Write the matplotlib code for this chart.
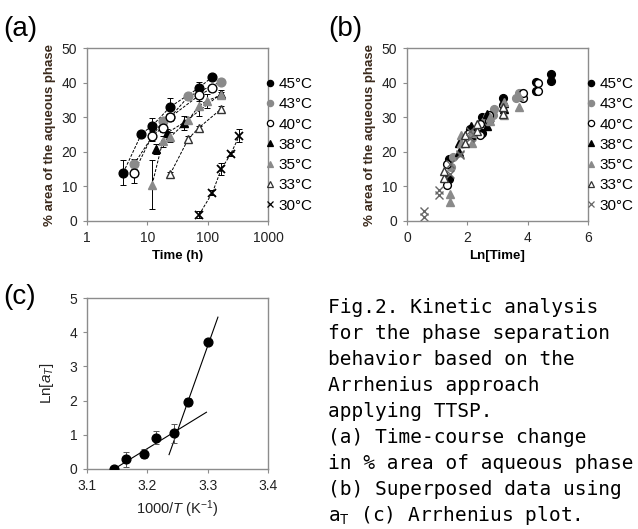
import matplotlib
matplotlib.use('Agg')
import matplotlib.pyplot as plt
from matplotlib.lines import Line2D
import numpy as np

plt.rcParams['font.family'] = ['Liberation Sans', 'DejaVu Sans']
plt.rcParams['mathtext.fontset'] = 'custom'
plt.rcParams['mathtext.rm'] = 'Liberation Sans'
plt.rcParams['mathtext.it'] = 'Liberation Sans:italic'

# ---- panel (a): time course, mean +- sd ----
temps = ['45°C', '43°C', '40°C', '38°C', '35°C', '33°C', '30°C']

t45 = [4, 8, 12, 24, 72, 120]
y45 = [14.0, 25.2, 27.5, 33.0, 38.5, 41.7]
e45 = [3.5, 0.8, 2.3, 2.5, 1.8, 0.6]

t43 = [6, 18, 24, 48, 168]
y43 = [16.4, 29.0, 30.0, 36.0, 40.3]
e43 = [1.5, 1.0, 1.0, 0.8, 0.8]

t40 = [6, 12, 18, 24, 72, 120]
y40 = [14.0, 24.6, 27.0, 30.0, 36.3, 38.5]
e40 = [3.0, 1.5, 1.2, 1.0, 1.5, 0.8]

t38 = [14, 21, 40, 168]
y38 = [20.8, 25.4, 28.4, 36.8]
e38 = [1.5, 1.2, 2.0, 1.0]

t35 = [12, 18, 24, 48, 72, 96, 168]
y35 = [10.5, 23.0, 24.3, 29.2, 33.3, 34.7, 36.4]
e35 = [7.0, 1.5, 1.5, 0.8, 3.0, 2.0, 1.0]

t33 = [24, 48, 72, 168]
y33 = [13.6, 23.8, 27.0, 32.4]
e33 = [0.6, 0.8, 0.6, 0.8]

t30 = [72, 120, 168, 240, 336]
y30 = [1.8, 8.2, 15.0, 19.3, 24.7]
e30 = [1.0, 0.8, 1.8, 0.6, 1.8]

# ---- panel (b): superposed replicates, x = Ln[Time] ----
bx45 = [1.39, 1.39, 2.08, 2.08, 2.48, 2.48, 3.18, 3.18, 4.28, 4.28, 4.79, 4.79]
by45 = [12.0, 17.8, 24.5, 26.5, 25.5, 30.2, 33.5, 35.5, 37.5, 40.3, 40.5, 42.5]
bx43 = [1.45, 1.52, 2.15, 2.22, 2.6, 2.65, 2.85, 2.9, 3.6, 3.7]
by43 = [15.5, 18.5, 24.0, 26.0, 29.0, 30.0, 30.5, 32.3, 35.5, 37.0]
bx40 = [1.34, 1.34, 2.04, 2.04, 2.43, 2.43, 2.73, 2.73, 3.83, 3.83, 4.33, 4.33]
by40 = [10.5, 16.5, 23.0, 25.5, 25.0, 28.0, 29.0, 30.5, 35.5, 37.0, 37.5, 40.0]
bx38 = [1.72, 1.72, 2.12, 2.12, 2.65, 2.65, 3.2, 3.2]
by38 = [20.0, 22.5, 25.0, 27.5, 27.5, 31.0, 32.5, 34.0]
bx35 = [1.42, 1.42, 1.8, 1.8, 2.15, 2.15, 2.75, 2.75, 3.22, 3.22, 3.7, 3.7]
by35 = [5.5, 7.8, 22.5, 25.0, 22.5, 25.5, 29.0, 30.0, 30.5, 34.5, 33.0, 36.0]
bx33 = [1.23, 1.23, 1.92, 1.92, 2.33, 2.33, 3.17, 3.17]
by33 = [12.5, 14.5, 22.5, 25.0, 26.0, 28.0, 31.0, 33.0]
bx30 = [0.56, 0.56, 1.07, 1.07, 1.41, 1.41, 1.76, 1.76, 2.1, 2.1]
by30 = [1.2, 2.8, 7.5, 9.0, 13.5, 16.5, 19.0, 19.5, 24.0, 26.0]

# ---- panel (c): Arrhenius plot ----
inv_T = [3.145, 3.165, 3.195, 3.215, 3.245, 3.267, 3.300]
ln_aT = [0.0, 0.28, 0.45, 0.92, 1.05, 1.95, 3.72]
ln_aT_err = [0.05, 0.22, 0.13, 0.18, 0.28, 0.12, 0.08]
fit1_x = [3.145, 3.298]
fit1_y = [0.0, 1.66]
fit2_x = [3.236, 3.317]
fit2_y = [0.42, 4.44]

caption = ['Fig.2. Kinetic analysis',
           'for the phase separation',
           'behavior based on the',
           'Arrhenius approach',
           'applying TTSP.',
           '(a) Time-course change',
           'in % area of aqueous phase',
           '(b) Superposed data using',
           'a$_\\mathrm{T}$ (c) Arrhenius plot.']

GRAY = '#8a8a8a'
SPINE = '#8c8c8c'
YLAB = '#3b2a1c'

# marker styles per temperature: (marker, face, edge)
styles = [('o', 'black', 'black'),
          ('o', GRAY, GRAY),
          ('o', 'white', 'black'),
          ('^', 'black', 'black'),
          ('^', GRAY, GRAY),
          ('^', 'white', '#333333'),
          ('x', 'black', 'black')]

W, H = 638, 529
fig = plt.figure(figsize=(W / 100, H / 100), dpi=100)


def axrect(l, t, r, b):
    return [l / W, 1 - b / H, (r - l) / W, (b - t) / H]


def style_axes(ax):
    for s in ax.spines.values():
        s.set_color(SPINE)
        s.set_linewidth(1.0)
    ax.tick_params(direction='out', length=3, width=0.8, color=SPINE,
                   labelsize=10, labelcolor='#222222', pad=4)


def legend_handles(ms):
    hs = []
    for m, fc, ec in styles:
        hs.append(Line2D([], [], linestyle='none', marker=m, markersize=ms,
                         markerfacecolor=fc, markeredgecolor=ec,
                         color=ec, markeredgewidth=0.9))
    return hs


# ---------------- (a) ----------------
axa = fig.add_axes(axrect(87, 48, 268, 221))
series_a = [(t45, y45, e45), (t43, y43, e43), (t40, y40, e40), (t38, y38, e38),
            (t35, y35, e35), (t33, y33, e33), (t30, y30, e30)]
for (t, y, e), (m, fc, ec) in zip(series_a, styles):
    axa.errorbar(t, y, yerr=e, fmt='none', ecolor='black', elinewidth=0.7,
                 capsize=2, capthick=0.7, zorder=2)
    axa.plot(t, y, linestyle=(0, (3, 1.5)), color='black', linewidth=0.7, zorder=1)
    axa.plot(t, y, linestyle='none', marker=m, markersize=6.3 if m != 'x' else 5.5,
             markerfacecolor=fc, markeredgecolor=ec, color=ec,
             markeredgewidth=1.0 if m != 'x' else 1.3, zorder=3)
axa.set_xscale('log')
axa.set_xlim(1, 1000)
axa.set_ylim(0, 50)
axa.set_xticks([1, 10, 100, 1000])
axa.set_xticklabels(['1', '10', '100', '1000'])
axa.xaxis.set_minor_locator(matplotlib.ticker.NullLocator())
axa.set_yticks(range(0, 51, 10))
style_axes(axa)
axa.set_xlabel('Time (h)', fontsize=9.5, fontweight='bold', labelpad=4)
axa.set_ylabel('% area of the aqueous phase', fontsize=9.5, fontweight='bold',
               color=YLAB, labelpad=4)
axa.legend(legend_handles(4.5), temps, loc='upper left', frameon=False,
           bbox_to_anchor=(266 / W, 1 - 77 / H), bbox_transform=fig.transFigure,
           fontsize=11, handlelength=0.5, handletextpad=0.3, labelspacing=0.41,
           borderpad=0, borderaxespad=0)

# ---------------- (b) ----------------
axb = fig.add_axes(axrect(407, 48, 588, 221))
series_b = [(bx45, by45), (bx43, by43), (bx40, by40), (bx38, by38),
            (bx35, by35), (bx33, by33), (bx30, by30)]
for (x, y), (m, fc, ec) in zip(series_b, styles):
    if m == 'x':
        fc, ec = GRAY, '#666666'
    axb.plot(x, y, linestyle='none', marker=m, markersize=5.6,
             markerfacecolor=fc, markeredgecolor=ec, color=ec,
             markeredgewidth=1.0)
axb.set_xlim(0, 6)
axb.set_ylim(0, 50)
axb.set_xticks([0, 2, 4, 6])
axb.set_yticks(range(0, 51, 10))
style_axes(axb)
axb.set_xlabel('Ln[Time]', fontsize=9.5, fontweight='bold', labelpad=4)
axb.set_ylabel('% area of the aqueous phase', fontsize=9.5, fontweight='bold',
               color=YLAB, labelpad=4)
hb = legend_handles(4.5)
hb[6].set_color(GRAY)
hb[6].set_markeredgecolor('#666666')
axb.legend(hb, temps, loc='upper left', frameon=False,
           bbox_to_anchor=(587 / W, 1 - 77 / H), bbox_transform=fig.transFigure,
           fontsize=11, handlelength=0.5, handletextpad=0.3, labelspacing=0.41,
           borderpad=0, borderaxespad=0)

# ---------------- (c) ----------------
axc = fig.add_axes(axrect(87, 298, 268, 469))
axc.plot(fit1_x, fit1_y, color='black', linewidth=0.8)
axc.plot(fit2_x, fit2_y, color='black', linewidth=0.8)
axc.errorbar(inv_T, ln_aT, yerr=ln_aT_err, fmt='o', color='black',
             markersize=6.3, ecolor='#555555', elinewidth=0.7, capsize=2,
             capthick=0.7, zorder=3)
axc.set_xlim(3.1, 3.4)
axc.set_ylim(0, 5)
axc.set_xticks([3.1, 3.2, 3.3, 3.4])
axc.set_yticks(range(0, 6))
style_axes(axc)
axc.set_xlabel('1000/$T$ (K$^{-1}$)', fontsize=10.5, color='#222222', labelpad=4)
axc.set_ylabel('Ln[$a_T$]', fontsize=11, color='#222222', labelpad=10)

# panel letters
fig.text(3 / W, 1 - 36 / H, '(a)', fontsize=20, va='baseline')
fig.text(328 / W, 1 - 36 / H, '(b)', fontsize=20, va='baseline')
fig.text(3 / W, 1 - 304 / H, '(c)', fontsize=20, va='baseline')

# caption block
for i, line in enumerate(caption):
    fig.text(328 / W, 1 - (313 + 26 * i) / H, line, fontsize=14,
             family='DejaVu Sans Mono', va='baseline')

fig.savefig('out.png', dpi=100)
